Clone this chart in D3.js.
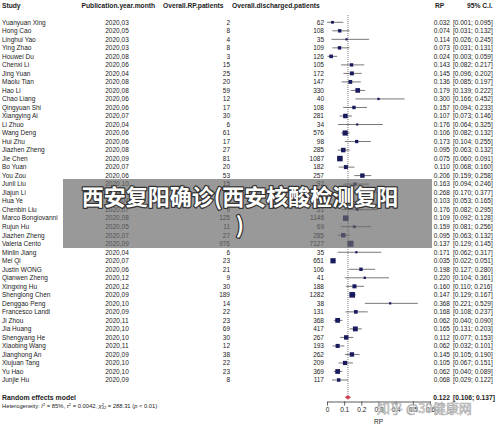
<!DOCTYPE html>
<html><head><meta charset="utf-8">
<script src="https://cdn.jsdelivr.net/npm/d3@7/dist/d3.min.js"></script>
<style>
html,body{margin:0;padding:0;background:#fff;}
svg{display:block;font-family:"Liberation Sans",Arial,sans-serif;}
</style></head>
<body>
<svg id="c" width="500" height="428"></svg>
<script>
const studies = ["Yuanyuan Xing","Hong Cao","Linghui Yao","Ying Zhao","Houwei Du","Chenxi Li","Jing Yuan","Maolu Tian","Hao Li","Chao Liang","Qingyuan Shi","Xiangying Ai","Li Zhuo","Wang Deng","Hui Zhu","Jiazhen Zheng","Jie Chen","Bo Yuan","You Zou","Junli Liu","Jiajun Li","Hua Ye","Chenbin Liu","Marco Bongiovanni","Rujun Hu","Jiazhen Zheng","Valeria Cento","Minlin Jiang","Mei Qi","Justin WONG","Qianwen Zheng","Xingxing Hu","Shenglong Chen","Denggao Peng","Francesco Landi","Ji Zhou","Jia Huang","Shengyang He","Xiaobing Wang","Jianghong An","Xiujuan Tang","Yu Hao","Junjie Hu"];
const pubMonths = ["2020,03","2020,05","2020,03","2020,03","2020,08","2020,06","2020,04","2020,08","2020,08","2020,06","2020,06","2020,07","2020,04","2020,06","2020,06","2020,08","2020,09","2020,07","2020,06","2020,10","2020,07","2020,04","2020,07","2020,08","2020,05","2020,07","2020,09","2020,04","2020,07","2020,06","2020,12","2020,12","2020,09","2020,10","2020,09","2020,11","2020,10","2020,10","2020,11","2020,09","2020,10","2020,10","2020,09"];
const rpPatients = [2,8,4,8,3,15,25,20,59,12,17,30,6,61,17,27,81,20,53,15,15,12,9,125,11,27,976,6,23,21,9,30,189,14,22,23,69,30,12,38,22,23,8];
const dischargedPatients = [62,108,35,109,126,105,172,147,330,40,108,281,34,576,98,285,1087,182,257,92,56,117,51,1146,69,285,7127,35,651,106,41,188,1282,38,131,368,417,267,193,262,209,369,117];
const rp = [0.032,0.074,0.114,0.073,0.024,0.143,0.145,0.136,0.179,0.300,0.157,0.107,0.176,0.106,0.173,0.095,0.075,0.110,0.206,0.163,0.268,0.103,0.176,0.109,0.159,0.095,0.137,0.171,0.035,0.198,0.220,0.160,0.147,0.368,0.168,0.062,0.165,0.112,0.062,0.145,0.105,0.062,0.068];
const ciLow = [0.001,0.031,0.026,0.031,0.003,0.082,0.096,0.085,0.139,0.166,0.094,0.073,0.064,0.082,0.104,0.063,0.060,0.068,0.159,0.094,0.170,0.053,0.082,0.092,0.081,0.063,0.129,0.062,0.022,0.127,0.104,0.110,0.129,0.221,0.108,0.040,0.131,0.077,0.032,0.105,0.067,0.040,0.029];
const ciHigh = [0.095,0.132,0.245,0.131,0.059,0.217,0.202,0.197,0.222,0.452,0.233,0.146,0.325,0.132,0.255,0.132,0.091,0.160,0.258,0.246,0.377,0.165,0.295,0.128,0.256,0.132,0.145,0.317,0.051,0.280,0.361,0.216,0.167,0.529,0.237,0.090,0.203,0.153,0.101,0.190,0.151,0.089,0.122];
const pooled = {est:0.122, lo:0.106, hi:0.137};
const tau2 = 0.0042;
const xTicks = [0,0.1,0.2,0.3,0.4,0.5,0.6];

const svg = d3.select("#c");
const x = d3.scaleLinear().domain([0,0.6]).range([327,430]);
const y = d3.scalePoint().domain(d3.range(studies.length)).range([22.3,380]);
const txt = "#222";
const fs = 6.5;
const f3 = d3.format(".3f");

// headers
const hdr = [
  {t:"Study",x:2,a:"start"},
  {t:"Publication.year.month",x:81.5,a:"start"},
  {t:"Overall.RP.patients",x:163,a:"start"},
  {t:"Overall.discharged.patients",x:232,a:"start"},
  {t:"RP",x:435,a:"start"},
  {t:"95% C.I.",x:467,a:"start"}
];
svg.selectAll("text.h").data(hdr).enter().append("text")
  .attr("x",d=>d.x).attr("y",8.2).attr("text-anchor",d=>d.a)
  .attr("font-size",6.7).attr("font-weight","bold").attr("fill",txt).text(d=>d.t);

const rows = svg.append("g");
const idx = d3.range(studies.length);
function col(vals, xpos, anchor){
  rows.selectAll(null).data(idx).enter().append("text")
    .attr("x",xpos).attr("y",i=>y(i)+2.3).attr("text-anchor",anchor)
    .attr("font-size",fs).attr("fill",txt).text(i=>vals(i));
}
col(i=>studies[i],2,"start");
col(i=>pubMonths[i],117,"middle");
col(i=>rpPatients[i],230,"end");
col(i=>dischargedPatients[i],324,"end");
col(i=>f3(rp[i]),450,"end");
col(i=>"["+f3(ciLow[i])+"; "+f3(ciHigh[i])+"]",453,"start");

// reference dashed line at pooled estimate
svg.append("line").attr("x1",x(pooled.est)).attr("x2",x(pooled.est))
  .attr("y1",15).attr("y2",394).attr("stroke","#555").attr("stroke-width",0.8)
  .attr("stroke-dasharray","1,1");

// CI lines
svg.append("g").selectAll("line").data(idx).enter().append("line")
  .attr("x1",i=>x(ciLow[i])).attr("x2",i=>x(ciHigh[i]))
  .attr("y1",i=>y(i)).attr("y2",i=>y(i))
  .attr("stroke","#555").attr("stroke-width",0.8);

// squares sized by random-effects weight
const w = idx.map(i=>1/(1/(dischargedPatients[i]+0.5)+tau2));
const side = d3.scaleSqrt().domain([0,d3.max(w)]).range([0,6]);
svg.append("g").selectAll("rect").data(idx).enter().append("rect")
  .attr("x",i=>x(rp[i])-side(w[i])/2).attr("y",i=>y(i)-side(w[i])/2)
  .attr("width",i=>side(w[i])).attr("height",i=>side(w[i]))
  .attr("fill","#1a1a5e");

// pooled diamond
const yd = 397.3;
svg.append("path")
  .attr("d",`M${x(pooled.lo)},${yd} L${x(pooled.est)},${yd-2} L${x(pooled.hi)},${yd} L${x(pooled.est)},${yd+2} Z`)
  .attr("fill","#c8404f").attr("stroke","#c8404f").attr("stroke-width",0.6);

svg.append("text").attr("x",2).attr("y",399.5).attr("font-size",6.9).attr("font-weight","bold")
  .attr("fill",txt).text("Random effects model");
const het = svg.append("text").attr("x",2).attr("y",407.6).attr("font-size",5.8).attr("fill",txt);
het.append("tspan").text("Heterogeneity: ");
het.append("tspan").attr("font-style","italic").text("I");
het.append("tspan").attr("dy",-2).attr("font-size",4).text("2");
het.append("tspan").attr("dy",2).text(" = 85%, ");
het.append("tspan").attr("font-style","italic").text("τ");
het.append("tspan").attr("dy",-2).attr("font-size",4).text("2");
het.append("tspan").attr("dy",2).text(" = 0.0042, ");
het.append("tspan").attr("font-style","italic").text("χ");
het.append("tspan").attr("dy",-2).attr("font-size",4).text("2");
het.append("tspan").attr("dy",3.5).attr("dx",-2.2).attr("font-size",4).text("42");
het.append("tspan").attr("dy",-1.5).text(" = 288.31 (");
het.append("tspan").attr("font-style","italic").text("p");
het.append("tspan").text(" < 0.01)");

svg.append("text").attr("x",450).attr("y",399.8).attr("text-anchor","end").attr("font-size",6.7)
  .attr("font-weight","bold").attr("fill",txt).text(f3(pooled.est));
svg.append("text").attr("x",453).attr("y",399.8).attr("font-size",6.7)
  .attr("font-weight","bold").attr("fill",txt).text("["+f3(pooled.lo)+"; "+f3(pooled.hi)+"]");

// axis
const ax = svg.append("g").attr("transform","translate(0,401.5)")
  .call(d3.axisBottom(x).tickValues(xTicks).tickSize(4).tickSizeOuter(0)
    .tickFormat(d=>d===0?"0":d3.format(".1f")(d)));
ax.select(".domain").attr("stroke","#333").attr("stroke-width",0.8);
ax.selectAll(".tick line").attr("stroke","#333").attr("stroke-width",0.8);
ax.selectAll(".tick text").attr("font-size",6.5).attr("fill",txt).attr("dy","0.55em")
  .attr("font-family","Liberation Sans, Arial, sans-serif");
svg.append("text").attr("x",x(0.3)).attr("y",424).attr("text-anchor","middle")
  .attr("font-size",6.5).attr("fill",txt).text("RP");

// overlay banner watermark
svg.append("rect").attr("x",63).attr("y",179).attr("width",369).attr("height",69)
  .attr("fill","rgb(105,105,105)").attr("opacity",0.68);
const wm = svg.append("g").attr("font-family","'Noto Sans CJK SC',sans-serif")
  .attr("font-weight","bold").attr("font-size",22).attr("text-anchor","middle");
[["西安复阳确诊(西安核酸检测复阳",205],[")",233]].forEach(([t,yy])=>{
  wm.append("text").attr("x",240).attr("y",yy).attr("fill","none")
    .attr("stroke","#333").attr("stroke-width",2.5).attr("stroke-linejoin","round").text(t);
  wm.append("text").attr("x",240).attr("y",yy).attr("fill","#fff").text(t);
});

// zhihu watermark
const zw = svg.append("text").attr("x",377).attr("y",412.5)
  .attr("font-family","'Noto Sans CJK SC',sans-serif").attr("font-size",13)
  .attr("fill","#fff").attr("fill-opacity",0.6).attr("stroke","#999").attr("stroke-width",0.7)
  .attr("stroke-opacity",0.8).text("知乎 @39健康网");
</script>
</body></html>
